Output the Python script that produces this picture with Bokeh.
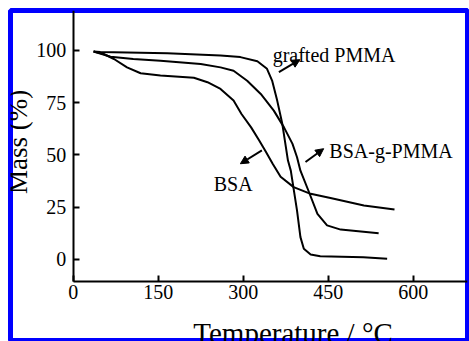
from bokeh.plotting import figure
from bokeh.models import (LinearAxis, FixedTicker, Range1d, Label, Arrow,
                          NormalHead, ColumnDataSource)
from bokeh.embed import file_html
from bokeh.resources import INLINE
from bokeh.core.properties import value

FONT = "Liberation Serif"

# ---- data ----
temp_grafted = [36, 48, 166, 260, 295, 325, 342, 351, 360, 369, 379, 384, 395, 401, 407, 419, 436, 512, 554]
mass_grafted = [99.5, 99.2, 98.7, 97.6, 96.8, 94.8, 91.2, 85.6, 76.0, 64.9, 47.3, 42.5, 23.4, 10.7, 5.1, 2.4, 1.6, 1.1, 0.3]

temp_bsa_g = [36, 66, 106, 154, 225, 260, 283, 307, 331, 354, 372, 387, 395, 401, 415, 431, 448, 472, 539]
mass_bsa_g = [99.5, 97.0, 95.9, 95.1, 93.5, 91.9, 90.3, 85.5, 79.2, 71.2, 63.2, 55.3, 48.9, 42.5, 33.0, 21.8, 16.3, 14.3, 12.6]

temp_bsa = [36, 54, 72, 95, 119, 154, 213, 237, 260, 283, 297, 314, 328, 340, 352, 366, 389, 419, 454, 513, 567]
mass_bsa = [99.5, 98.3, 95.9, 91.9, 89.1, 88.0, 86.9, 84.8, 81.6, 76.0, 69.6, 63.2, 57.0, 51.5, 45.8, 39.6, 34.6, 31.4, 29.4, 25.8, 23.9]

x_ticks = [0, 150, 300, 450, 600]
y_ticks = [0, 25, 50, 75, 100]

curve_names = ["grafted PMMA", "BSA-g-PMMA", "BSA"]
name_x = [352, 452, 248]
name_y = [98.0, 51.8, 36.2]

arrow_x0 = [363, 410, 333]
arrow_y0 = [89.6, 46.6, 52.2]
arrow_x1 = [400, 442, 295]
arrow_y1 = [95.6, 53.0, 45.8]

x_title = "Temperature / °C"
y_title = "Mass (%)"

# ---- figure ----
p = figure(width=469, height=341, output_backend="svg", toolbar_location=None,
           x_range=Range1d(-110.6, 695.8), y_range=Range1d(-39.23, 119.1),
           x_axis_location=None, y_axis_location=None,
           min_border_left=10, min_border_right=2, min_border_top=10,
           min_border_bottom=0)
p.grid.visible = False
p.background_fill_color = "white"
p.border_fill_color = "white"
p.outline_line_color = "#0000ff"
p.outline_line_width = 5

def style_axis(ax):
    ax.axis_line_width = 2
    ax.axis_line_color = "black"
    ax.major_tick_line_width = 2
    ax.major_tick_in = 6
    ax.major_tick_out = 0
    ax.minor_tick_line_color = None
    ax.major_label_text_font = FONT
    ax.major_label_text_font_size = "20px"
    ax.major_label_text_color = "black"

xaxis = LinearAxis(fixed_location=-10.5, bounds=(0, 696),
                   ticker=FixedTicker(ticks=x_ticks))
style_axis(xaxis)
xaxis.major_label_standoff = 4
p.add_layout(xaxis, "below")

yaxis = LinearAxis(fixed_location=0, bounds=(-10.5, 119.1),
                   ticker=FixedTicker(ticks=y_ticks))
style_axis(yaxis)
yaxis.major_label_standoff = 7
p.add_layout(yaxis, "left")

for tx, my in [(temp_grafted, mass_grafted), (temp_bsa_g, mass_bsa_g), (temp_bsa, mass_bsa)]:
    p.line(tx, my, line_color="black", line_width=2)

p.text(x=name_x, y=name_y, text=curve_names, text_font=value(FONT),
       text_font_size="20px", text_color="black",
       text_align="left", text_baseline="alphabetic")

asrc = ColumnDataSource(dict(x0=arrow_x0, y0=arrow_y0, x1=arrow_x1, y1=arrow_y1))
p.add_layout(Arrow(source=asrc, x_start="x0", y_start="y0", x_end="x1", y_end="y1",
                   line_width=2, line_color="black",
                   end=NormalHead(size=8, fill_color="black", line_color="black")))

p.add_layout(Label(x=-97.4, y=56.2, text=y_title, angle=1.5708,
                   text_font=FONT, text_font_size="27px", text_color="black",
                   text_align="center", text_baseline="alphabetic"))
p.add_layout(Label(x=388, y=-35.3, text=x_title,
                   text_font=FONT, text_font_size="29px", text_color="black",
                   text_align="center", text_baseline="alphabetic"))

open("out.html", "w").write(file_html(p, INLINE))
